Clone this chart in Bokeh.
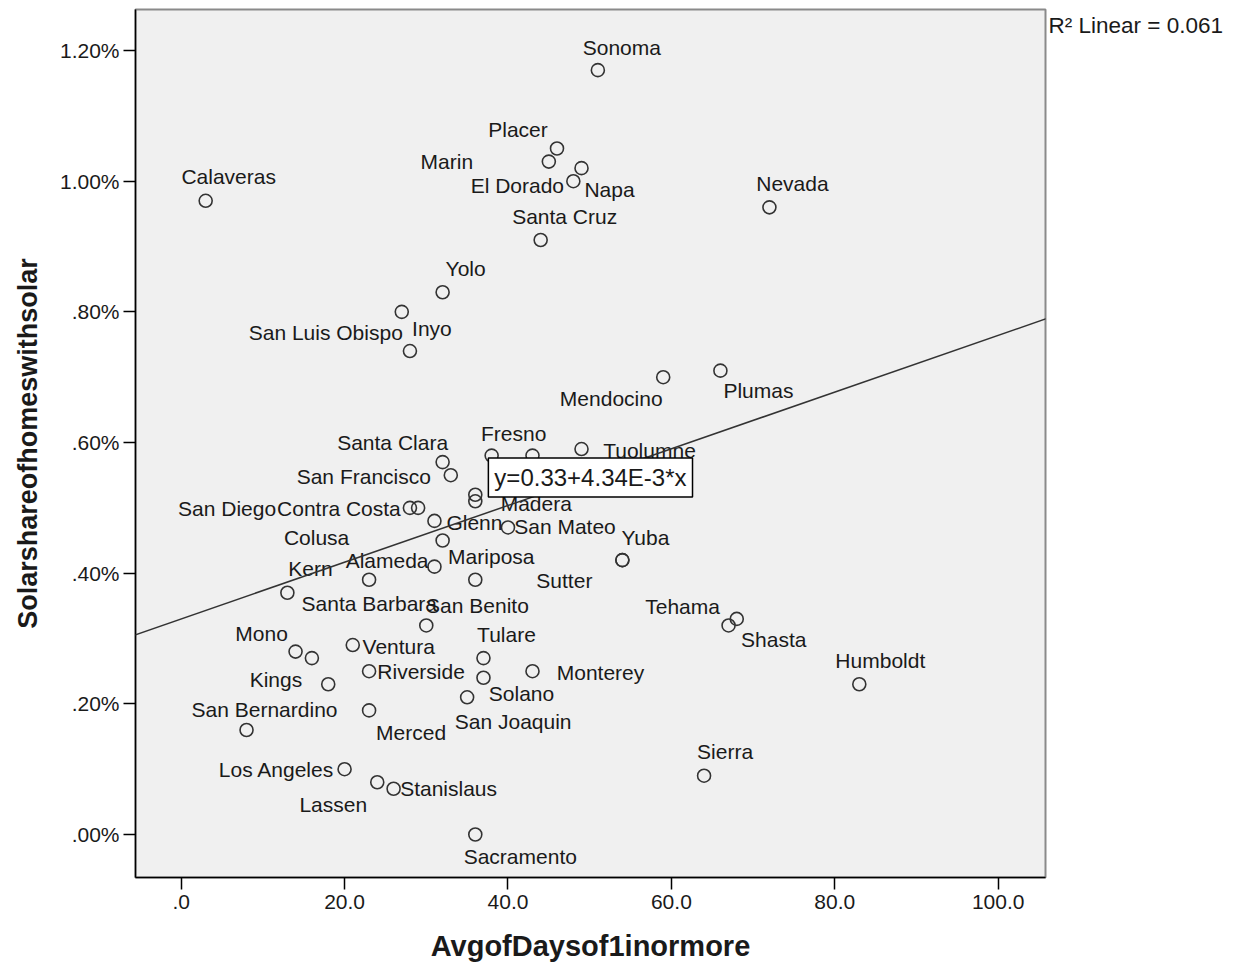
from bokeh.plotting import figure
from bokeh.models import ColumnDataSource, FixedTicker, Slope, Label, Range1d
from bokeh.core.properties import value
from bokeh.embed import file_html
from bokeh.resources import INLINE

# ---------------- data ----------------
counties = ["Sonoma", "Placer", "Marin", "Napa", "El Dorado", "Santa Cruz", "Calaveras",
            "Nevada", "Yolo", "San Luis Obispo", "Inyo", "Mendocino", "Plumas",
            "Santa Clara", "San Francisco", "Fresno", "", "Tuolumne", "Contra Costa",
            "San Diego", "Madera", "", "Glenn", "Colusa", "San Mateo", "Yuba", "Sutter",
            "Alameda", "Mariposa", "San Benito", "Kern", "Santa Barbara", "Tehama",
            "Shasta", "Mono", "Kings", "Ventura", "Riverside", "", "Tulare", "Solano",
            "Monterey", "San Joaquin", "Humboldt", "Merced", "San Bernardino", "Sierra",
            "Los Angeles", "Stanislaus", "Lassen", "Sacramento"]
days_1in = [51, 46, 45, 49, 48, 44, 3,
            72, 32, 27, 28, 59, 66,
            32, 33, 38, 43, 49, 28,
            29, 36, 36, 31, 32, 40, 54, 54,
            23, 36, 31, 13, 30, 67,
            68, 14, 16, 21, 23, 18, 37, 37,
            43, 35, 83, 23, 8, 64,
            20, 26, 24, 36]
solar_share_pct = [1.17, 1.05, 1.03, 1.02, 1.00, 0.91, 0.97,
                   0.96, 0.83, 0.80, 0.74, 0.70, 0.71,
                   0.57, 0.55, 0.58, 0.58, 0.59, 0.50,
                   0.50, 0.52, 0.51, 0.48, 0.45, 0.47, 0.42, 0.42,
                   0.39, 0.39, 0.41, 0.37, 0.32, 0.32,
                   0.33, 0.28, 0.27, 0.29, 0.25, 0.23, 0.27, 0.24,
                   0.25, 0.21, 0.23, 0.19, 0.16, 0.09,
                   0.10, 0.07, 0.08, 0.00]

fit_intercept = 0.33
fit_slope = 4.34e-3
fit_text = "y=0.33+4.34E-3*x"
r2_text = "R\u00b2 Linear = 0.061"

x_ticks = [0, 20, 40, 60, 80, 100]
x_tick_labels = [".0", "20.0", "40.0", "60.0", "80.0", "100.0"]
y_ticks = [0.0, 0.2, 0.4, 0.6, 0.8, 1.0, 1.2]
y_tick_labels = [".00%", ".20%", ".40%", ".60%", ".80%", "1.00%", "1.20%"]

x_title = "AvgofDaysof1inormore"
y_title = "Solarshareofhomeswithsolar"

# ---------------- label placement (screen pixel offsets, layout only) ----------------
label_offsets = {
    "Sonoma": (24, -23), "Placer": (-39, -19), "Marin": (-102, 0), "Napa": (28, 21),
    "El Dorado": (-56, 4), "Santa Cruz": (24, -23), "Calaveras": (23, -24),
    "Nevada": (23, -24), "Yolo": (23, -24), "San Luis Obispo": (-76, 21),
    "Inyo": (22, -23), "Mendocino": (-52, 21), "Plumas": (38, 20),
    "Santa Clara": (-50, -20), "San Francisco": (-87, 1), "Fresno": (22, -22),
    "Tuolumne": (68, 1), "Contra Costa": (-71, 1), "San Diego": (-191, 1),
    "Madera": (61, 9), "Glenn": (40, 2), "Colusa": (-126, -3), "San Mateo": (57, -1),
    "Yuba": (23, -23), "Sutter": (-58, 20), "Alameda": (18, -19), "Mariposa": (16, -23),
    "San Benito": (43, 39), "Kern": (23, -24), "Santa Barbara": (-57, -22),
    "Tehama": (-46, -19), "Shasta": (37, 21), "Mono": (-34, -18), "Kings": (-36, 21),
    "Ventura": (46, 1), "Riverside": (52, 0), "Tulare": (23, -24), "Solano": (38, 16),
    "Monterey": (68, 1), "San Joaquin": (46, 24), "Humboldt": (21, -24),
    "Merced": (42, 22), "San Bernardino": (18, -20), "Sierra": (21, -24),
    "Los Angeles": (-68, 0), "Stanislaus": (55, 0), "Lassen": (-44, 22),
    "Sacramento": (45, 22),
}

FONT = value("Liberation Sans")
INK = "#1a1a1a"

src = ColumnDataSource(dict(
    x=days_1in, y=solar_share_pct, name=counties,
    dx=[label_offsets.get(n, (0, 0))[0] for n in counties],
    dy=[label_offsets.get(n, (0, 0))[1] for n in counties],
))

W, H = 1240, 968
p = figure(width=W, height=H, output_backend="svg", toolbar_location=None,
           x_range=Range1d(-5.59, 105.79), y_range=Range1d(-0.0658, 1.2628),
           min_border_left=135, min_border_right=W - 1045, min_border_top=9,
           min_border_bottom=H - 877)

p.background_fill_color = "#f0f0f0"
p.border_fill_color = "white"
p.outline_line_color = "#8a8a8a"
p.outline_line_width = 2
p.xgrid.visible = False
p.ygrid.visible = False

for ax in (p.xaxis[0], p.yaxis[0]):
    ax.axis_line_color = "black"
    ax.axis_line_width = 1.5
    ax.major_tick_line_color = "black"
    ax.major_tick_line_width = 1.5
    ax.major_tick_in = 0
    ax.major_tick_out = 12
    ax.minor_tick_line_color = None
    ax.major_label_text_font = "Liberation Sans"
    ax.major_label_text_font_size = "21px"
    ax.major_label_text_color = INK
    ax.axis_label_text_font = "Liberation Sans"
    ax.axis_label_text_font_style = "bold"
    ax.axis_label_text_color = INK

p.xaxis.axis_label_text_font_size = "29px"
p.yaxis.axis_label_text_font_size = "27px"
p.xaxis.ticker = FixedTicker(ticks=x_ticks)
p.xaxis.major_label_overrides = dict(zip(x_ticks, x_tick_labels))
p.yaxis.ticker = FixedTicker(ticks=y_ticks)
p.yaxis.major_label_overrides = dict(zip(y_ticks, y_tick_labels))
p.xaxis.axis_label = x_title
p.yaxis.axis_label = y_title
p.xaxis.major_label_standoff = 5
p.xaxis.axis_label_standoff = 18
p.yaxis.major_label_standoff = 4
p.yaxis.axis_label_standoff = 14

p.scatter(x="x", y="y", source=src, marker="circle", size=13,
          fill_color=None, line_color="#333333", line_width=1.6)

p.text(x="x", y="y", text="name", source=src, x_offset="dx", y_offset="dy",
       text_align="center", text_baseline="middle", text_font=FONT,
       text_font_size="21px", text_color=INK)

p.add_layout(Slope(gradient=fit_slope, y_intercept=fit_intercept,
                   line_color="#333333", line_width=1.5))

p.add_layout(Label(x=37.6, y=0.5465, text=fit_text, text_align="left",
                   text_baseline="middle", text_font="Liberation Sans",
                   text_font_size="24px", text_color=INK,
                   background_fill_color="white", background_fill_alpha=1.0,
                   border_line_color="black", border_line_width=1.5,
                   padding=6))

# R^2 note: lives in the right margin panel, so it is not clipped by the frame
p.add_layout(Label(x=106.16, y=1.2383, text=r2_text, text_align="left",
                   text_baseline="middle", text_font="Liberation Sans",
                   text_font_size="22.5px", text_color=INK), "right")

open("out.html", "w").write(file_html(p, INLINE))
